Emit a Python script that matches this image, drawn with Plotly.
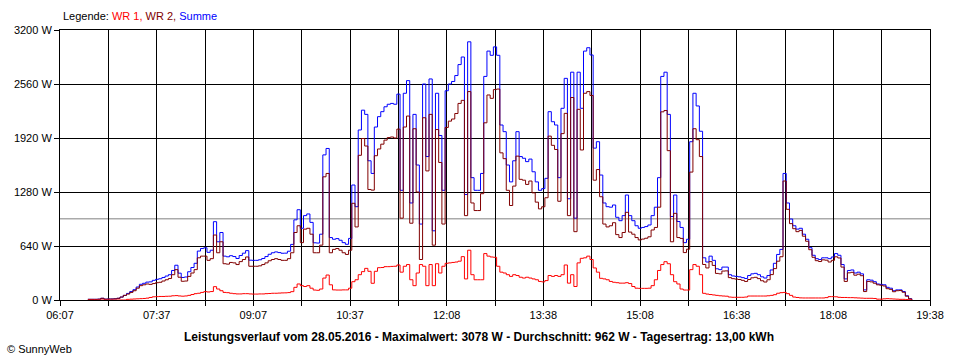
import pandas as pd
import plotly.graph_objects as go

# ---- data (3-minute samples from 06:33 to 19:21) ----
start_time = "2016-05-28 06:33"
n_samples = 257

wr1 = [0, 0, 0, 0, 0, 0, 0, 0, 0, 0, 0, 0, 8, 10, 12, 14, 16, 18, 22, 30,
       38, 40, 42, 42, 44, 45, 50, 52, 48, 45, 48, 55, 65, 75, 80, 90, 99, 95, 100, 158,
       130, 110, 90, 87, 80, 75, 72, 72, 75, 75, 72, 70, 70, 72, 72, 75, 77, 80, 80, 82,
       84, 85, 88, 99, 150, 190, 170, 160, 170, 140, 118, 115, 130, 260, 296, 180, 120, 118, 118, 120,
       120, 140, 217, 240, 300, 336, 375, 340, 198, 340, 383, 385, 395, 395, 398, 400, 415, 330, 400, 420,
       240, 170, 320, 420, 400, 170, 420, 170, 430, 320, 400, 435, 440, 445, 450, 460, 514, 250, 590, 300,
       240, 240, 240, 550, 520, 510, 506, 400, 330, 320, 300, 280, 300, 290, 270, 260, 270, 260, 250, 240,
       220, 215, 230, 290, 280, 290, 280, 300, 415, 200, 300, 160, 440, 494, 500, 520, 480, 380, 330, 257,
       250, 240, 220, 210, 205, 200, 200, 205, 195, 160, 140, 138, 138, 138, 140, 170, 240, 350, 420, 454,
       430, 300, 217, 190, 130, 118, 118, 360, 420, 400, 300, 79, 70, 65, 60, 55, 50, 47, 45, 35,
       32, 32, 32, 32, 35, 47, 47, 47, 47, 47, 47, 50, 55, 63, 80, 87, 90, 75, 55, 35,
       30, 25, 24, 24, 24, 24, 24, 24, 24, 28, 40, 40, 38, 32, 30, 30, 28, 28, 26, 24,
       22, 20, 20, 20, 18, 10, 10, 14, 16, 14, 12, 10, 8, 8, 5, 2, 0]

wr2 = [8, 8, 8, 10, 20, 10, 12, 12, 14, 20, 35, 55, 70, 90, 110, 140, 170, 180, 190, 185,
       195, 205, 210, 225, 240, 255, 300, 360, 270, 222, 225, 280, 320, 360, 500, 520, 520, 470, 490, 770,
       560, 690, 430, 425, 445, 440, 420, 455, 480, 510, 400, 400, 400, 405, 420, 440, 465, 480, 490, 480,
       470, 470, 490, 560, 800, 880, 680, 840, 850, 780, 560, 560, 650, 1460, 1500, 560, 600, 610, 590, 560,
       540, 590, 1146, 866, 1715, 1914, 1825, 1310, 1302, 1710, 1790, 1847, 1895, 1925, 1932, 1920, 2025, 970, 2050, 2180,
       910, 2030, 1280, 480, 2160, 1530, 2200, 650, 2020, 1630, 900, 2045, 2120, 2145, 2210, 2330, 2366, 1000, 2470, 1150,
       1060, 1060, 1260, 2100, 2430, 2390, 2494, 2500, 1744, 1675, 1300, 1120, 1350, 1705, 1430, 1420, 1370, 1410, 1270, 1160,
       1080, 1105, 1212, 1942, 1833, 1784, 1170, 1972, 2212, 1000, 2400, 810, 2260, 1778, 2450, 2470, 2424, 1420, 1546, 1224,
       900, 866, 880, 916, 775, 740, 800, 1039, 805, 780, 740, 712, 722, 732, 749, 830, 860, 1100, 2230, 2246,
       1770, 690, 1027, 740, 730, 562, 602, 1516, 2030, 1900, 1700, 421, 380, 455, 410, 315, 310, 343, 345, 265,
       253, 248, 243, 233, 220, 243, 263, 269, 253, 228, 213, 240, 301, 372, 460, 513, 1410, 1075, 905, 845,
       810, 825, 756, 696, 596, 506, 466, 456, 476, 472, 450, 470, 512, 498, 390, 220, 322, 328, 294, 306,
       288, 100, 220, 215, 199, 180, 175, 166, 134, 126, 98, 110, 112, 92, 45, 13, 0]

summe = [8, 8, 8, 10, 20, 10, 12, 12, 14, 20, 35, 55, 78, 100, 122, 154, 186, 198, 212, 215,
         233, 245, 252, 267, 284, 300, 350, 412, 318, 267, 273, 335, 385, 435, 580, 610, 619, 565, 590, 928,
         690, 800, 520, 512, 525, 515, 492, 527, 555, 585, 472, 470, 470, 477, 492, 515, 542, 560, 570, 562,
         554, 555, 578, 659, 950, 1070, 850, 1000, 1020, 920, 678, 675, 780, 1720, 1796, 740, 720, 728, 708, 680,
         660, 730, 1363, 1106, 2015, 2250, 2200, 1650, 1500, 2050, 2173, 2232, 2290, 2320, 2330, 2320, 2440, 1300, 2450, 2600,
         1150, 2200, 1600, 900, 2560, 1700, 2620, 820, 2450, 1950, 1300, 2480, 2560, 2590, 2660, 2790, 2880, 1250, 3060, 1450,
         1300, 1300, 1500, 2650, 2950, 2900, 3000, 2900, 2074, 1995, 1600, 1400, 1650, 1995, 1700, 1680, 1640, 1670, 1520, 1400,
         1300, 1320, 1442, 2232, 2113, 2074, 1450, 2272, 2627, 1200, 2700, 970, 2700, 2272, 2950, 2990, 2904, 1800, 1876, 1481,
         1150, 1106, 1100, 1126, 980, 940, 1000, 1244, 1000, 940, 880, 850, 860, 870, 889, 1000, 1100, 1450, 2650, 2700,
         2200, 990, 1244, 930, 860, 680, 720, 1876, 2450, 2300, 2000, 500, 450, 520, 470, 370, 360, 390, 390, 300,
         285, 280, 275, 265, 255, 290, 310, 316, 300, 275, 260, 290, 356, 435, 540, 600, 1500, 1150, 960, 880,
         840, 850, 780, 720, 620, 530, 490, 480, 500, 500, 490, 510, 550, 530, 420, 250, 350, 356, 320, 330,
         310, 120, 240, 235, 217, 190, 185, 180, 150, 140, 110, 120, 120, 100, 50, 15, 0]

average_w = 962
y_ticks = [0, 640, 1280, 1920, 2560, 3200]
y_labels = ["0 W", "640 W", "1280 W", "1920 W", "2560 W", "3200 W"]
x_labels = ["06:07", "07:37", "09:07", "10:37", "12:08", "13:38", "15:08", "16:38", "18:08", "19:38"]
x_start, x_end = "2016-05-28 06:07", "2016-05-28 19:38"

times = pd.date_range(start_time, periods=n_samples, freq="3min")
grid_vals = pd.date_range(x_start, x_end, periods=2 * len(x_labels) - 1)
grid_text = []
for i in range(len(grid_vals)):
    grid_text.append(x_labels[i // 2] if i % 2 == 0 else "")

BLUE, RED, DARKRED = "#0000FF", "#FF0000", "#800000"
FONT = "Liberation Sans, Arial, sans-serif"

fig = go.Figure()
fig.add_trace(go.Scatter(x=times, y=summe, mode="lines", name="Summe",
                         line=dict(color=BLUE, width=1, shape="hv")))
fig.add_trace(go.Scatter(x=times, y=wr2, mode="lines", name="WR 2",
                         line=dict(color=DARKRED, width=1, shape="hv")))
fig.add_trace(go.Scatter(x=times, y=wr1, mode="lines", name="WR 1",
                         line=dict(color=RED, width=1, shape="hv")))

fig.add_shape(type="line", xref="paper", x0=0, x1=1, yref="y", y0=average_w, y1=average_w,
              line=dict(color="#808080", width=1), layer="below")

fig.update_layout(
    width=960, height=360,
    margin=dict(l=60, r=30, t=30, b=60),
    paper_bgcolor="white", plot_bgcolor="white",
    showlegend=False,
    font=dict(family=FONT, size=11, color="black"),
    xaxis=dict(range=[x_start, x_end], tickmode="array", tickvals=grid_vals, ticktext=grid_text,
               showgrid=True, gridcolor="black", gridwidth=1,
               showline=True, linecolor="black", linewidth=1, mirror=True,
               ticks="outside", ticklen=5, tickcolor="black", zeroline=False,
               tickfont=dict(size=11, family=FONT)),
    yaxis=dict(range=[0, 3200], tickmode="array", tickvals=y_ticks, ticktext=y_labels,
               showgrid=True, gridcolor="black", gridwidth=1,
               showline=True, linecolor="black", linewidth=1, mirror=True,
               ticks="outside", ticklen=5, tickcolor="black", zeroline=False,
               tickfont=dict(size=11, family=FONT)),
)

legend_text = ("Legende: <span style='color:%s'>WR 1,</span> "
               "<span style='color:%s'>WR 2,</span> "
               "<span style='color:%s'>Summe</span>") % (RED, DARKRED, BLUE)
fig.add_annotation(text=legend_text, xref="paper", yref="paper", x=0.001, y=1.052,
                   xanchor="left", yanchor="middle", showarrow=False,
                   font=dict(size=11, family=FONT, color="black"))
fig.add_annotation(text="<b>Leistungsverlauf vom 28.05.2016 - Maximalwert: 3078 W - "
                        "Durchschnitt: 962 W - Tagesertrag: 13,00 kWh</b>",
                   xref="paper", yref="paper", x=0.4816, y=-0.137,
                   xanchor="center", yanchor="middle", showarrow=False,
                   font=dict(size=12, family=FONT, color="black"))
fig.add_annotation(text="© SunnyWeb", xref="paper", yref="paper", x=-0.0632, y=-0.181,
                   xanchor="left", yanchor="middle", showarrow=False,
                   font=dict(size=11, family=FONT, color="black"))

fig.write_html("out.html", config={"displayModeBar": False},
               post_script="document.body.style.margin='0px';document.body.style.padding='0px';")
